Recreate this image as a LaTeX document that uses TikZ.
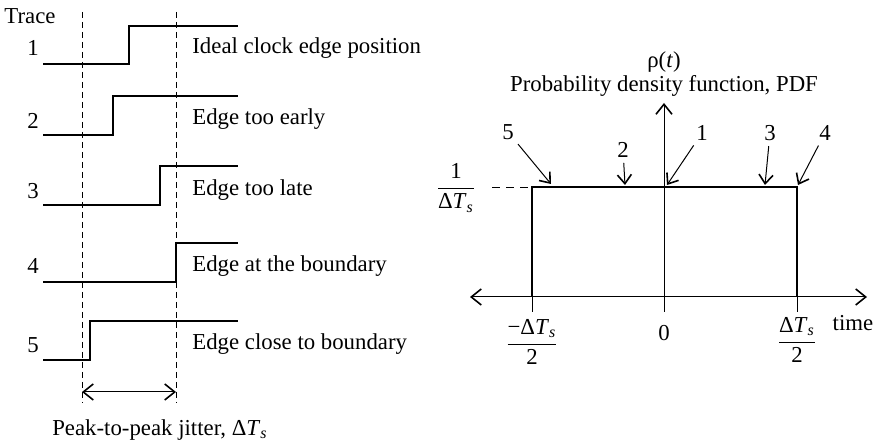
\documentclass[tikz,border=0pt]{standalone}
\usepackage{amsmath}
\usepackage{fontspec}
\setmainfont{Liberation Serif}
\usepackage{tikz}
\usetikzlibrary{arrows.meta, positioning, calc}
\newcommand{\dTs}{\mbox{Δ\textit{T}$_{\textit{s}}$}}

\begin{document}
\begin{tikzpicture}[
  x=0.5pt, y=-0.5pt,
  font=\fontsize{11.4}{13.6}\selectfont,
  trace/.style={line width=1.1pt},
  guide/.style={dash pattern=on 3pt off 2pt, line width=0.4pt},
  axis/.style={line width=0.5pt},
  axisarrow/.style={{Straight Barb[length=5pt, width=8pt, line width=0.8pt]}-{Straight Barb[length=5pt, width=8pt, line width=0.8pt]}},
  uparrow/.style={-{Straight Barb[length=5pt, width=8pt, line width=0.8pt]}},
  pointer/.style={-{Straight Barb[length=4.5pt, width=7pt, line width=0.8pt]},
                  line width=0.5pt, shorten <=1.5pt},
  lbl/.style={inner sep=1pt},
]
\useasboundingbox (0,0) rectangle (874,442);

% Traces
\node[lbl] (trace) at (30,16) {Trace};
\draw[guide] (82,12) -- (82,403);
\draw[guide] (176,12) -- (176,403);

\node[lbl] (n1) at (33,48) {1};
\draw[trace] (43,64) -- (129,64) -- (129,26) -- (238,26);
\node[lbl, anchor=west] (t1) at (190,48) {Ideal clock edge position};

\node[lbl] (n2) at (33,121) {2};
\draw[trace] (43,135) -- (113,135) -- (113,96) -- (238,96);
\node[lbl, anchor=west] (t2) at (190,119) {Edge too early};

\node[lbl] (n3) at (33,191) {3};
\draw[trace] (43,205) -- (160,205) -- (160,166) -- (238,166);
\node[lbl, anchor=west] (t3) at (190,190) {Edge too late};

\node[lbl] (n4) at (33,266) {4};
\draw[trace] (43,282) -- (176,282) -- (176,243) -- (238,243);
\node[lbl, anchor=west] (t4) at (190,266) {Edge at the boundary};

\node[lbl] (n5) at (33,345) {5};
\draw[trace] (43,360) -- (90,360) -- (90,321) -- (238,321);
\node[lbl, anchor=west] (t5) at (190,344) {Edge close to boundary};

% Jitter span
\coordinate (jl) at (82,392);
\coordinate (jr) at (176,392);
\draw[axis, axisarrow] (jl) -- (jr);
\node[lbl] (jit) at (160,430) {Peak-to-peak jitter, \dTs};

% PDF axes
\coordinate (xl) at (470,297);
\coordinate (xr) at (867,297);
\coordinate (ybot) at (664,312);
\coordinate (ytop) at (664,103);
\draw[axis, axisarrow] (xl) -- (xr);
\draw[axis, uparrow] (ybot) -- (ytop);
\node[lbl] (rho) at (664,62) {ρ(\textit{t})};
\node[lbl] (pdf) at (664,86) {Probability density function, PDF};

% Uniform density
\coordinate (bl) at (532,297);
\coordinate (tl) at (532,187);
\coordinate (tr) at (797,187);
\coordinate (br) at (797,297);
\draw[trace] (bl) -- (tl) -- (tr) -- (br);
\draw[axis] (bl) -- (532,312);
\draw[axis] (br) -- (797,312);

\node[lbl] (level) at (456,188) {$\dfrac{\mbox{1}}{\dTs}$};
\coordinate (dl) at (492,187);
\draw[guide, dash pattern=on 4pt off 3pt] (dl) -- (tl);

\node[lbl] (lo) at (532,342) {$\dfrac{\mbox{−}\dTs}{\mbox{2}}$};
\node[lbl] (zero) at (664,333) {0};
\node[lbl] (hi) at (797,340) {$\dfrac{\dTs}{\mbox{2}}$};
\node[lbl] (time) at (853,323) {time};

% Where each trace lands
\node[lbl] (p5) at (508,132) {5};
\node[lbl] (p2) at (623,150) {2};
\node[lbl] (p1) at (702,133) {1};
\node[lbl] (p3) at (770,133) {3};
\node[lbl] (p4) at (825,133) {4};
\coordinate (e5) at (551,184);
\coordinate (e2) at (625,185);
\coordinate (e1) at (667,185);
\coordinate (e3) at (765,185);
\coordinate (e4) at (798,185);
\draw[pointer] (p5) -- (e5);
\draw[pointer] (p2) -- (e2);
\draw[pointer] (p1) -- (e1);
\draw[pointer] (p3) -- (e3);
\draw[pointer] (p4) -- (e4);

\end{tikzpicture}
\end{document}
